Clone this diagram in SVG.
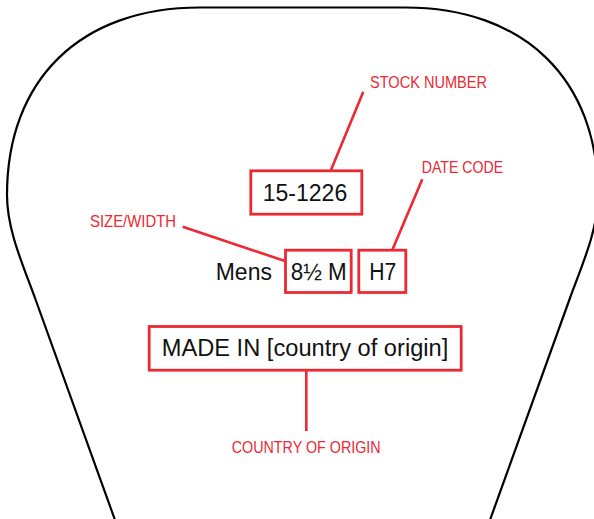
<svg xmlns="http://www.w3.org/2000/svg" width="594" height="519" viewBox="0 0 594 519">
  <style>
    .box { fill: none; stroke: #ec2832; stroke-width: 2.8; }
    .lead { fill: none; stroke: #ec2832; stroke-width: 2.6; }
    .lbl { font-family: "Liberation Sans", Arial, sans-serif; font-size: 16.5px; fill: #ec2832; }
    .txt { font-family: "Liberation Sans", Arial, sans-serif; font-size: 23px; fill: #111111; }
  </style>
  <rect width="594" height="519" fill="#ffffff"/>
  <g id="outline">
    <path d="M 115,520 L 35,298 C 23,265 7,230 7,195 C 7,80 80,7.5 200,7.5 L 405,7.5 C 525,7.5 598,80 598,195 C 598,230 582,265 570,298 L 490,520" fill="none" stroke="#000000" stroke-width="2.2"/>
  </g>
  <g id="connectors">
    <line class="lead" x1="363.3" y1="91.7" x2="331" y2="170"/>
    <line class="lead" x1="422.3" y1="179.3" x2="392.3" y2="250"/>
    <line class="lead" x1="182.7" y1="226.7" x2="285" y2="261"/>
    <line class="lead" x1="306.3" y1="371" x2="306.3" y2="431"/>
  </g>
  <g id="stock-number">
    <rect class="box" x="250.8" y="170.8" width="111" height="43.4"/>
    <text class="txt" x="305" y="200.7" text-anchor="middle">15-1226</text>
  </g>
  <g id="stock-number-label">
    <text class="lbl" x="370" y="88.3" textLength="117" lengthAdjust="spacingAndGlyphs">STOCK NUMBER</text>
  </g>
  <g id="mens">
    <text class="txt" x="215.7" y="280">Mens</text>
  </g>
  <g id="size-width">
    <rect class="box" x="285.5" y="250.2" width="65.7" height="42.3"/>
    <text class="txt" x="318.7" y="280" text-anchor="middle" textLength="56" lengthAdjust="spacingAndGlyphs">8½ M</text>
  </g>
  <g id="size-width-label">
    <text class="lbl" x="90" y="227.3" textLength="86" lengthAdjust="spacingAndGlyphs">SIZE/WIDTH</text>
  </g>
  <g id="date-code">
    <rect class="box" x="358.8" y="250.2" width="47" height="42.3"/>
    <text class="txt" x="382.7" y="280" text-anchor="middle" textLength="27" lengthAdjust="spacingAndGlyphs">H7</text>
  </g>
  <g id="date-code-label">
    <text class="lbl" x="421.7" y="172.7" textLength="81.5" lengthAdjust="spacingAndGlyphs">DATE CODE</text>
  </g>
  <g id="made-in">
    <rect class="box" x="149.2" y="326.5" width="312" height="43.7"/>
    <text class="txt" x="305" y="356" text-anchor="middle" textLength="286.6" lengthAdjust="spacingAndGlyphs">MADE IN [country of origin]</text>
  </g>
  <g id="country-label">
    <text class="lbl" x="231.7" y="453.3" textLength="149" lengthAdjust="spacingAndGlyphs">COUNTRY OF ORIGIN</text>
  </g>
</svg>
